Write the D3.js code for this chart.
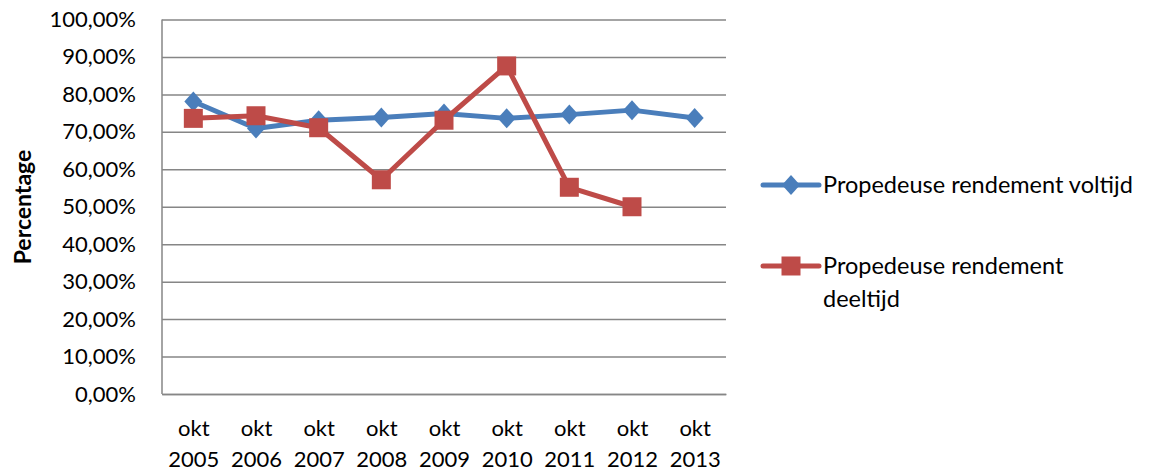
<!DOCTYPE html>
<html>
<head>
<meta charset="utf-8">
<script src="https://cdn.jsdelivr.net/npm/d3@7"></script>
<style>
  body { margin: 0; background: #fff; }
  svg { font-family: Lato, "Open Sans", sans-serif; }
</style>
</head>
<body>
<svg id="chart"></svg>
<script>
// chart data
var categories = ["okt 2005", "okt 2006", "okt 2007", "okt 2008", "okt 2009",
                  "okt 2010", "okt 2011", "okt 2012", "okt 2013"];
var voltijd = [0.781, 0.709, 0.731, 0.738, 0.749, 0.736, 0.746, 0.758, 0.737];
var deeltijd = [0.736, 0.743, 0.711, 0.572, 0.731, 0.876, 0.552, 0.500, null];
var yTicks = [0, 0.1, 0.2, 0.3, 0.4, 0.5, 0.6, 0.7, 0.8, 0.9, 1.0];
var seriesNames = ["Propedeuse rendement voltijd", "Propedeuse rendement deeltijd"];

var W = 1158, H = 473;
var pLeft = 162, pRight = 726, pTop = 19.5, pBottom = 394;

var svg = d3.select("#chart").attr("width", W).attr("height", H);

var x = d3.scalePoint().domain(categories).range([pLeft, pRight]).padding(0.5);
var y = d3.scaleLinear().domain([0, 1]).range([pBottom, pTop]);

var fmt = function(d) { return d3.format(".2f")(d * 100).replace(".", ",") + "%"; };

// gridlines + y labels
var yAxis = svg.append("g")
    .attr("transform", "translate(" + pLeft + ",0)")
    .call(d3.axisLeft(y).tickValues(yTicks).tickFormat(fmt)
        .tickSize(-(pRight - pLeft)).tickPadding(26));
yAxis.select(".domain").remove();
yAxis.selectAll(".tick line").attr("stroke", "#868686").attr("stroke-width", 1.5);
yAxis.selectAll(".tick text").attr("font-size", 22).attr("fill", "#000")
    .attr("font-family", "Lato, sans-serif");

// left axis line
svg.append("line")
    .attr("x1", pLeft).attr("x2", pLeft).attr("y1", pTop).attr("y2", pBottom)
    .attr("stroke", "#868686").attr("stroke-width", 1.5);

// x labels
var xAxis = svg.append("g")
    .attr("transform", "translate(0," + pBottom + ")")
    .call(d3.axisBottom(x).tickSize(0).tickFormat(""));
xAxis.select(".domain").attr("stroke", "#868686").attr("stroke-width", 1.5);
xAxis.selectAll(".tick").each(function(d) {
    var parts = d.split(" ");
    var t = d3.select(this).append("text")
        .attr("fill", "#000").attr("font-size", 22).attr("text-anchor", "middle")
        .attr("font-family", "Lato, sans-serif");
    t.append("tspan").attr("x", 0).attr("y", 42).text(parts[0]);
    t.append("tspan").attr("x", 0).attr("y", 73).text(parts[1]);
});

// y title
svg.append("text")
    .attr("transform", "translate(31,207) rotate(-90)")
    .attr("text-anchor", "middle")
    .attr("font-size", 23).attr("font-weight", "bold")
    .text("Percentage");

var blue = "#4A7EBB", red = "#BE4B48";

var line = d3.line()
    .defined(function(d) { return d != null; })
    .x(function(d, i) { return x(categories[i]); })
    .y(function(d) { return y(d); });

var diamond = "M0,-10L9,0L0,10L-9,0Z";
var square = "M-9.5,-9.5H9.5V9.5H-9.5Z";

function drawSeries(values, color, shape) {
    svg.append("path").datum(values)
        .attr("fill", "none").attr("stroke", color).attr("stroke-width", 5)
        .attr("stroke-linejoin", "round")
        .attr("d", line);
    svg.append("g").selectAll("path")
        .data(values.map(function(v, i) { return { v: v, c: categories[i] }; })
            .filter(function(d) { return d.v != null; }))
        .enter().append("path")
        .attr("d", shape).attr("fill", color)
        .attr("transform", function(d) { return "translate(" + x(d.c) + "," + y(d.v) + ")"; });
}

drawSeries(voltijd, blue, diamond);
drawSeries(deeltijd, red, square);

// legend
var legend = [
    { name: seriesNames[0], color: blue, shape: diamond, y: 185, lines: ["Propedeuse rendement voltijd"] },
    { name: seriesNames[1], color: red, shape: square, y: 266, lines: ["Propedeuse rendement", "deeltijd"] }
];
legend.forEach(function(l) {
    var g = svg.append("g").attr("transform", "translate(0," + l.y + ")");
    g.append("line").attr("x1", 763).attr("x2", 819).attr("y1", 0).attr("y2", 0)
        .attr("stroke", l.color).attr("stroke-width", 5).attr("stroke-linecap", "round");
    g.append("path").attr("d", l.shape).attr("fill", l.color)
        .attr("transform", "translate(791,0)");
    var t = g.append("text").attr("font-size", 23.5).attr("fill", "#000");
    l.lines.forEach(function(s, i) {
        t.append("tspan").attr("x", 823).attr("y", 8 + i * 33).text(s);
    });
});
</script>
</body>
</html>
